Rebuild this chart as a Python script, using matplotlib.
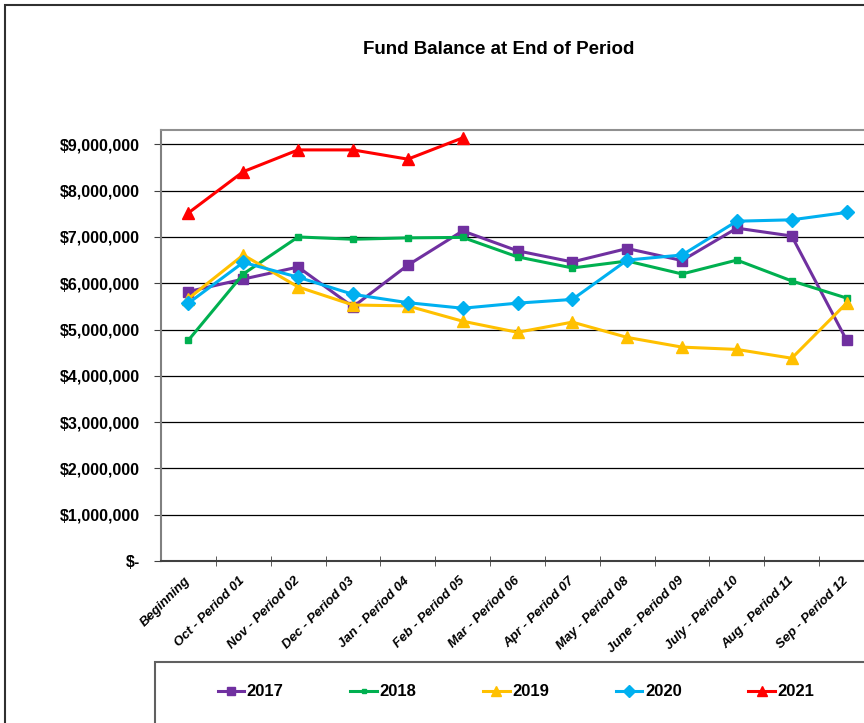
import matplotlib
matplotlib.use("Agg")
import matplotlib.pyplot as plt
from matplotlib.patches import Rectangle
from matplotlib.ticker import FuncFormatter, MultipleLocator

plt.rcParams['font.family'] = ['Liberation Sans', 'DejaVu Sans']

# categories
periods = ['Beginning', 'Oct - Period 01', 'Nov - Period 02', 'Dec - Period 03',
           'Jan - Period 04', 'Feb - Period 05', 'Mar - Period 06', 'Apr - Period 07',
           'May - Period 08', 'June - Period 09', 'July - Period 10', 'Aug - Period 11',
           'Sep - Period 12']

# fund balance
fy2017 = [5820000, 6090000, 6350000, 5490000, 6390000, 7130000, 6700000,
          6460000, 6750000, 6490000, 7190000, 7020000, 4770000]
fy2018 = [4770000, 6200000, 7000000, 6950000, 6980000, 6990000, 6570000,
          6330000, 6480000, 6200000, 6500000, 6050000, 5680000]
fy2019 = [5670000, 6610000, 5920000, 5530000, 5510000, 5180000, 4940000,
          5160000, 4830000, 4620000, 4570000, 4380000, 5570000]
fy2020 = [5570000, 6450000, 6130000, 5760000, 5580000, 5460000, 5570000,
          5650000, 6500000, 6610000, 7340000, 7370000, 7530000]
fy2021 = [7520000, 8410000, 8880000, 8880000, 8680000, 9140000]

series = [
    ('2017', fy2017, '#7030A0', 's', 7),
    ('2018', fy2018, '#00B050', 's', 4),
    ('2019', fy2019, '#FFC000', '^', 9),
    ('2020', fy2020, '#00B0F0', 'D', 7),
    ('2021', fy2021, '#FF0000', '^', 8),
]

fig = plt.figure(figsize=(8.64, 7.23), dpi=100)
ax = fig.add_axes([161/864, 1 - 561/723, 713/864, 431/723])

x_all = list(range(len(periods)))
for name, vals, col, mk, ms in series:
    ax.plot(x_all[:len(vals)], vals, color=col, lw=2.2, marker=mk, ms=ms,
            markeredgecolor=col, label=name)

ax.set_xlim(-0.5, len(periods) - 0.5)
ax.set_ylim(0, 9310000)
ax.yaxis.set_major_locator(MultipleLocator(1000000))
ax.yaxis.set_major_formatter(FuncFormatter(lambda v, p: '$-' if v == 0 else '${:,.0f}'.format(v)))
ax.grid(axis='y', color='black', lw=0.9)
ax.set_axisbelow(True)

ax.set_xticks(x_all)
ax.set_xticklabels(periods, rotation=45, ha='right', va='center',
                   rotation_mode='anchor', fontsize=9.5, fontweight='bold', style='italic')
ax.set_xticks([i + 0.5 for i in range(len(periods) - 1)], minor=True)
ax.tick_params(axis='x', which='major', length=0, pad=13)
ax.tick_params(axis='x', which='minor', length=7, direction='inout', color='#404040')
ax.tick_params(axis='y', length=5, direction='out', pad=10, labelsize=11.5, color='#404040')
for lab in ax.get_yticklabels():
    lab.set_fontweight('bold')

ax.spines['left'].set_color('#808080')
ax.spines['top'].set_color('#909090')
ax.spines['bottom'].set_color('#404040')
ax.spines['left'].set_linewidth(1.5)
ax.spines['top'].set_linewidth(1.5)
ax.spines['bottom'].set_linewidth(1.5)

fig.text(499/864, 1 - 50/723, 'Fund Balance at End of Period', ha='center', va='center',
         fontsize=13.5, fontweight='bold')

# outer chart border and legend box
fig.patches.append(Rectangle((5/864, -0.1), 1.2, 1.1 - 5/723, transform=fig.transFigure,
                             fill=False, edgecolor='#303030', lw=1.5))
fig.patches.append(Rectangle((155/864, -0.1), 1.0, 0.1 + (723 - 662)/723, transform=fig.transFigure,
                             fill=False, edgecolor='#606060', lw=1.5))

leg = fig.legend(loc='center', bbox_to_anchor=(516/864, 1 - 692/723), ncol=5, frameon=False,
                 prop={'weight': 'bold', 'size': 12}, handlelength=1.6, handletextpad=0.15,
                 columnspacing=4.0, markerscale=0.85)

fig.savefig('out.png', dpi=100)
